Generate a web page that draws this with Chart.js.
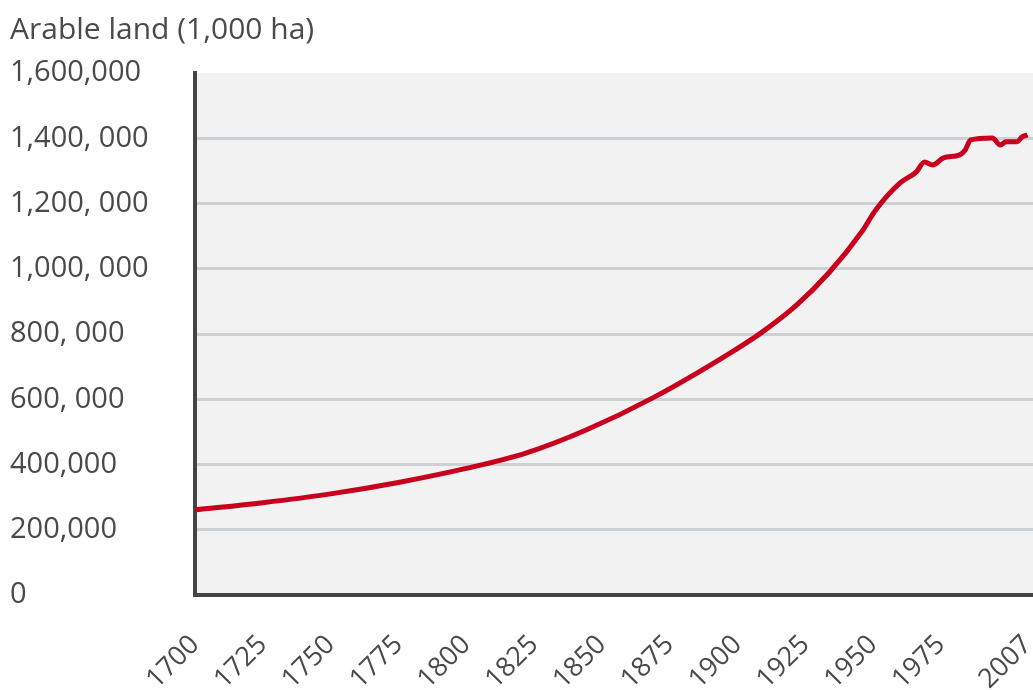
<!DOCTYPE html>
<html>
<head>
<meta charset="utf-8">
<script src="https://cdn.jsdelivr.net/npm/chart.js@4"></script>
<style>
  html, body { margin: 0; padding: 0; background: #fff; overflow: hidden; }
  #wrap { width: 1033px; height: 690px; }
</style>
</head>
<body>
<div id="wrap"><canvas id="graphique"></canvas></div>
<script>
const annees = [1700, 1725, 1750, 1775, 1800, 1822, 1844, 1869, 1897, 1909, 1922, 1934, 1946, 1951, 1960, 1966, 1969, 1972, 1976, 1982, 1984, 1986, 1994, 1997, 1999, 2003, 2005, 2007];
const terres = [261000, 283000, 310000, 345000, 388000, 435000, 505000, 605000, 740000, 805000, 890000, 990000, 1115000, 1180000, 1263000, 1297000, 1327000, 1318000, 1340000, 1349000, 1364000, 1395000, 1401000, 1379000, 1389000, 1389000, 1404000, 1410000];

const xTicks = [1700, 1725, 1750, 1775, 1800, 1825, 1850, 1875, 1900, 1925, 1950, 1975, 2007];
const yTicks = [0, 200000, 400000, 600000, 800000, 1000000, 1200000, 1400000, 1600000];
const yLabels = ["0", "200,000", "400,000", "600, 000", "800, 000", "1,000, 000", "1,200, 000", "1,400, 000", "1,600,000"];

const texte = "#4a4a4a";
const police = "'Open Sans', 'Noto Sans', sans-serif";

// fond gris de la zone de tracé
const fondZone = {
  id: "fondZone",
  beforeDraw(chart) {
    const { ctx, chartArea } = chart;
    ctx.save();
    ctx.fillStyle = "#f2f2f2";
    ctx.fillRect(chartArea.left, chartArea.top, chartArea.right - chartArea.left, chartArea.bottom - chartArea.top);
    ctx.restore();
  },
};

const ctx = document.getElementById("graphique").getContext("2d");
new Chart(ctx, {
  type: "line",
  data: {
    datasets: [{
      label: "Arable land",
      data: annees.map((a, i) => ({ x: a, y: terres[i] })),
      borderColor: "#c8001e",
      borderWidth: 5,
      pointRadius: 0,
      fill: false,
      cubicInterpolationMode: "monotone",
    }],
  },
  plugins: [fondZone],
  options: {
    responsive: true,
    maintainAspectRatio: false,
    animation: false,
    layout: { padding: { left: 10, right: 0, top: 0, bottom: 0 } },
    plugins: {
      legend: { display: false },
      tooltip: { enabled: false },
      title: {
        display: true,
        text: "Arable land (1,000 ha)",
        align: "start",
        color: texte,
        font: { family: police, size: 30, weight: "normal" },
        padding: { top: 12, bottom: 25 },
      },
    },
    scales: {
      x: {
        type: "linear",
        min: 1700,
        max: 2009,
        afterBuildTicks: (axis) => { axis.ticks = xTicks.map((v) => ({ value: v })); },
        afterFit: (axis) => {
          axis.height = 95;
          axis.paddingRight = 0;
          axis.paddingLeft = 0;
        },
        grid: { display: false, drawTicks: false },
        border: { display: true, color: "#444", width: 4 },
        ticks: {
          autoSkip: false,
          minRotation: 45,
          maxRotation: 45,
          padding: 34,
          color: texte,
          font: { family: police, size: 27 },
          callback: (v) => String(v),
        },
      },
      y: {
        min: 0,
        max: 1600000,
        afterBuildTicks: (axis) => { axis.ticks = yTicks.map((v) => ({ value: v })); },
        afterFit: (axis) => { axis.width = 185; },
        grid: {
          drawTicks: false,
          lineWidth: 3,
          color: (c) => (c.tick && (c.tick.value === 0 || c.tick.value === 1600000) ? "rgba(0,0,0,0)" : "#cdd1d4"),
        },
        border: { display: true, color: "#444", width: 4 },
        ticks: {
          crossAlign: "far",
          padding: 10,
          color: texte,
          font: { family: police, size: 29 },
          callback: (v) => {
            const i = yTicks.indexOf(v);
            return i >= 0 ? yLabels[i] : "";
          },
        },
      },
    },
  },
});
</script>
</body>
</html>
